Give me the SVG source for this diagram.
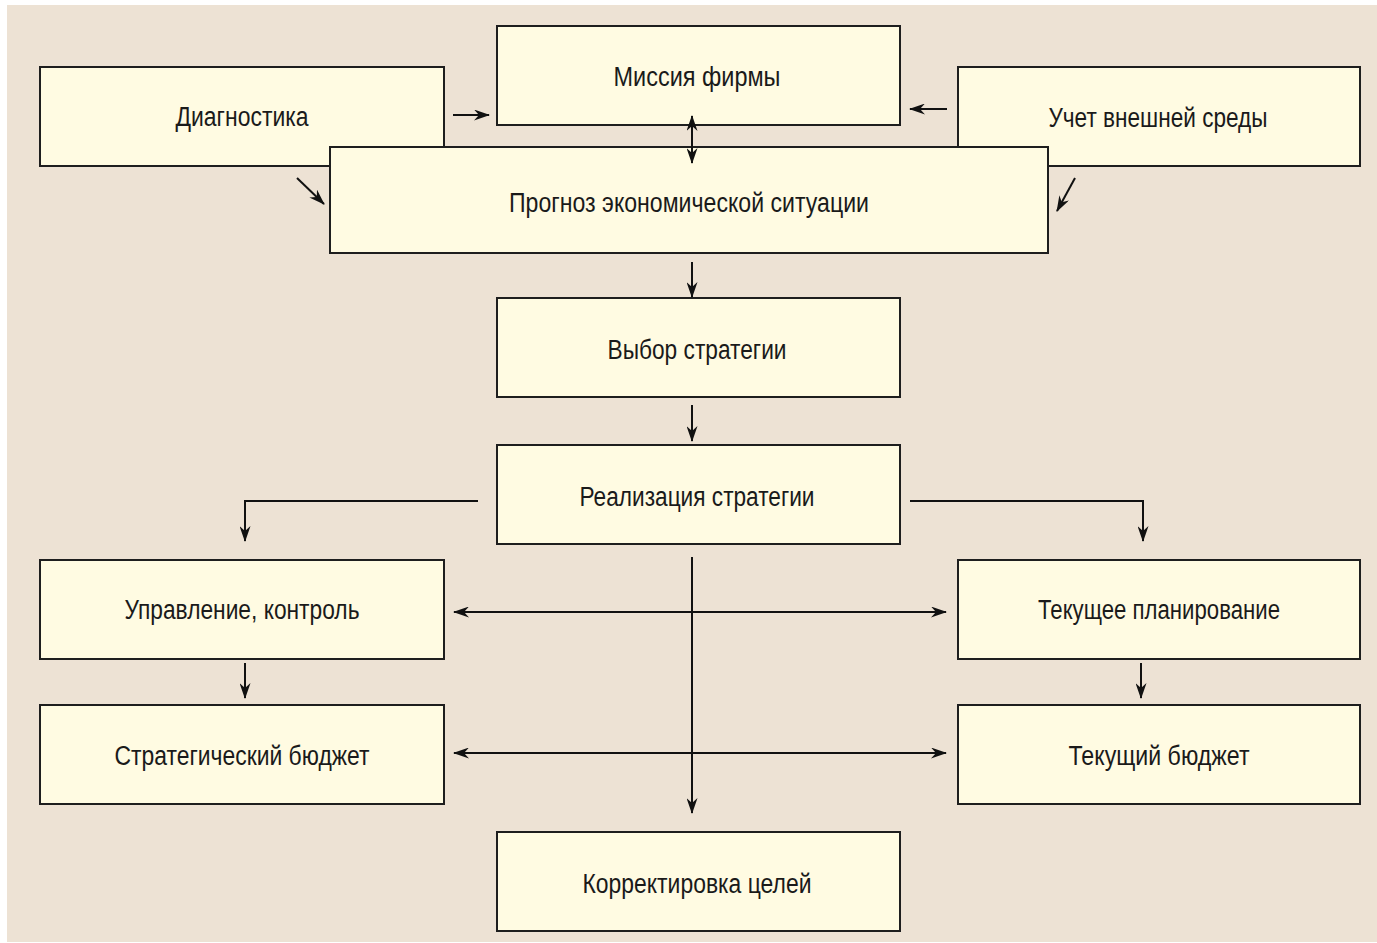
<svg xmlns="http://www.w3.org/2000/svg" width="1377" height="943" viewBox="0 0 1377 943">
<style>
.bx{fill:#fffbe2;stroke:#1e1e1e;stroke-width:2}
.lb{font-family:"Liberation Sans Narrow","Liberation Sans",Arial,sans-serif;font-size:27px;fill:#1a1a1a;text-anchor:middle}
.cn{fill:none;stroke:#111;stroke-width:2}
</style>
<defs>
<marker id="ah" viewBox="0 0 16 11" refX="15" refY="5.5" markerWidth="16" markerHeight="11" markerUnits="userSpaceOnUse" orient="auto-start-reverse">
<path d="M0,0 L16,5.5 L0,11 L5,5.5 z" fill="#111"/>
</marker>
</defs>
<rect x="0" y="0" width="1377" height="943" fill="#ffffff"/>
<rect x="7" y="5" width="1370" height="937" fill="#ede2d4"/>
<g id="n-diag"><rect class="bx" x="40" y="67" width="404" height="99"/><text class="lb" x="242" y="126" textLength="133" lengthAdjust="spacingAndGlyphs">Диагностика</text></g>
<g id="n-uchet"><rect class="bx" x="958" y="67" width="402" height="99"/><text class="lb" x="1158" y="127" textLength="219" lengthAdjust="spacingAndGlyphs">Учет внешней среды</text></g>
<g id="n-missia"><rect class="bx" x="497" y="26" width="403" height="99"/><text class="lb" x="697" y="86" textLength="167" lengthAdjust="spacingAndGlyphs">Миссия фирмы</text></g>
<g id="n-prognoz"><rect class="bx" x="330" y="147" width="718" height="106"/><text class="lb" x="689" y="212" textLength="360" lengthAdjust="spacingAndGlyphs">Прогноз экономической ситуации</text></g>
<g id="n-vybor"><rect class="bx" x="497" y="298" width="403" height="99"/><text class="lb" x="697" y="359" textLength="179" lengthAdjust="spacingAndGlyphs">Выбор стратегии</text></g>
<g id="n-realiz"><rect class="bx" x="497" y="445" width="403" height="99"/><text class="lb" x="697" y="506" textLength="235" lengthAdjust="spacingAndGlyphs">Реализация стратегии</text></g>
<g id="n-upr"><rect class="bx" x="40" y="560" width="404" height="99"/><text class="lb" x="242" y="619" textLength="235" lengthAdjust="spacingAndGlyphs">Управление, контроль</text></g>
<g id="n-tekplan"><rect class="bx" x="958" y="560" width="402" height="99"/><text class="lb" x="1159" y="619" textLength="242" lengthAdjust="spacingAndGlyphs">Текущее планирование</text></g>
<g id="n-stratbud"><rect class="bx" x="40" y="705" width="404" height="99"/><text class="lb" x="242" y="765" textLength="255" lengthAdjust="spacingAndGlyphs">Стратегический бюджет</text></g>
<g id="n-tekbud"><rect class="bx" x="958" y="705" width="402" height="99"/><text class="lb" x="1159" y="765" textLength="181" lengthAdjust="spacingAndGlyphs">Текущий бюджет</text></g>
<g id="n-korr"><rect class="bx" x="497" y="832" width="403" height="99"/><text class="lb" x="697" y="893" textLength="229" lengthAdjust="spacingAndGlyphs">Корректировка целей</text></g>
<g id="connectors">
<path class="cn" d="M453,115 L489,115" marker-end="url(#ah)"/>
<path class="cn" d="M947,109 L910,109" marker-end="url(#ah)"/>
<path class="cn" d="M692,116 L692,163" marker-start="url(#ah)" marker-end="url(#ah)"/>
<path class="cn" d="M297,178 L324,204" marker-end="url(#ah)"/>
<path class="cn" d="M1075,178 L1057,211" marker-end="url(#ah)"/>
<path class="cn" d="M692,262 L692,297" marker-end="url(#ah)"/>
<path class="cn" d="M692,405 L692,441" marker-end="url(#ah)"/>
<path class="cn" d="M478,501 L245,501 L245,541" marker-end="url(#ah)"/>
<path class="cn" d="M910,501 L1143,501 L1143,541" marker-end="url(#ah)"/>
<path class="cn" d="M692,557 L692,813" marker-end="url(#ah)"/>
<path class="cn" d="M454,612 L946,612" marker-start="url(#ah)" marker-end="url(#ah)"/>
<path class="cn" d="M454,753 L946,753" marker-start="url(#ah)" marker-end="url(#ah)"/>
<path class="cn" d="M245,663 L245,698" marker-end="url(#ah)"/>
<path class="cn" d="M1141,663 L1141,698" marker-end="url(#ah)"/>
</g>
</svg>
